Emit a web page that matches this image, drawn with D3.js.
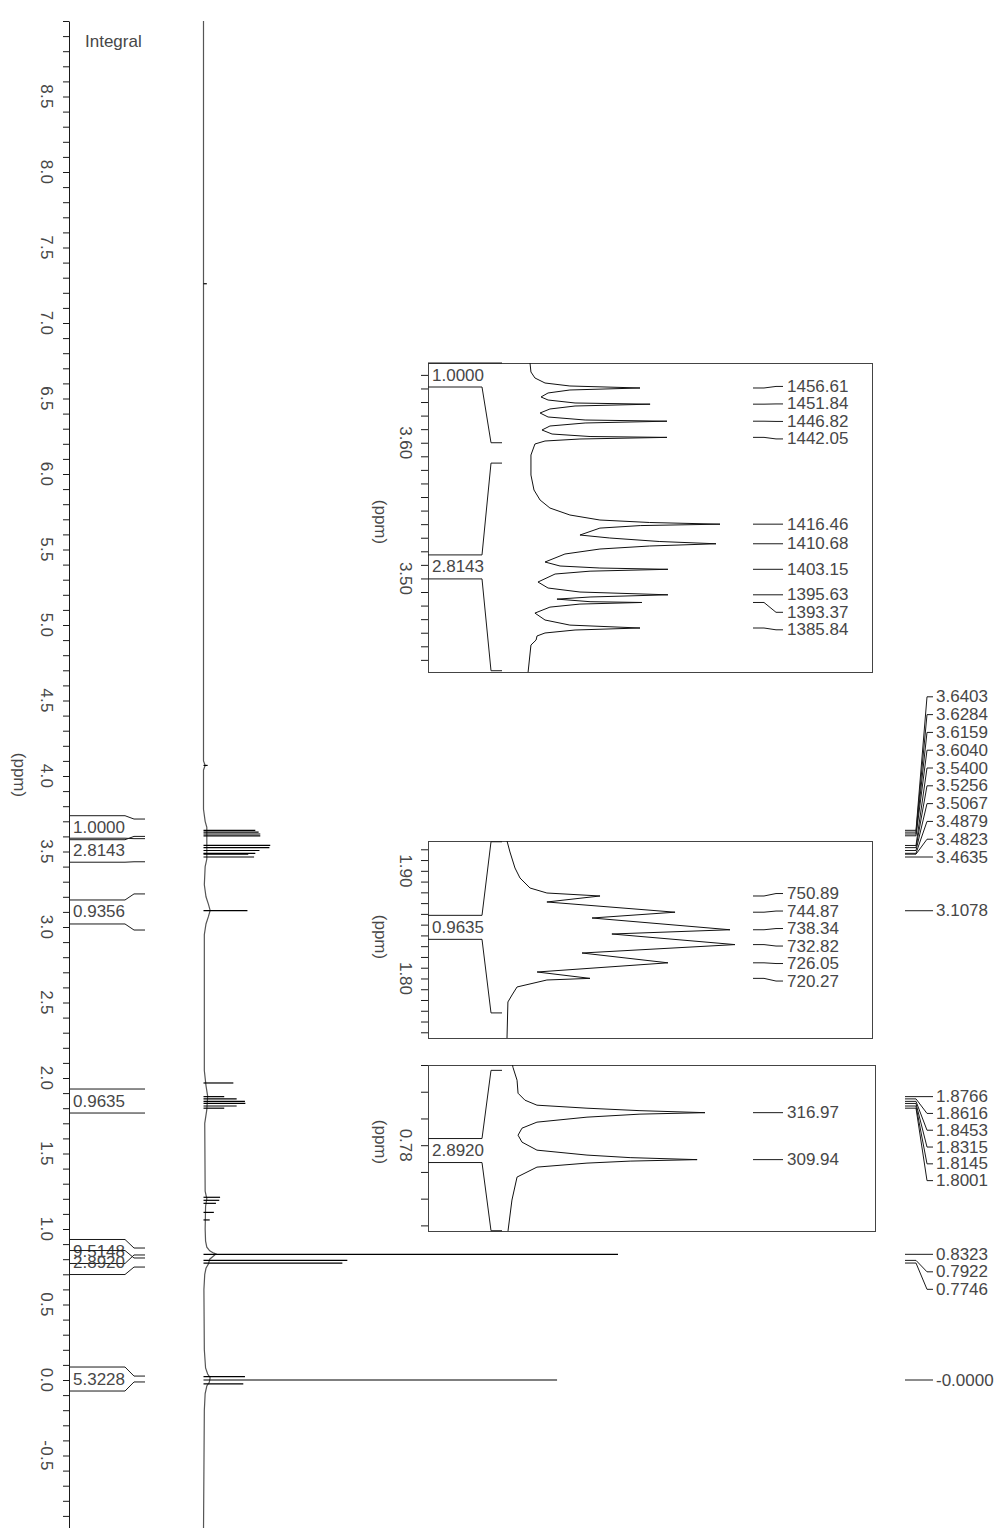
<!DOCTYPE html>
<html><head><meta charset="utf-8">
<script src="https://cdn.jsdelivr.net/npm/d3@7"></script>
<style>
body{margin:0;background:#fff;}
svg text{font-family:"Liberation Sans",Arial,sans-serif;font-size:17px;fill:#474747;}
</style></head><body>
<svg id="c" width="1000" height="1528"></svg>
<script>
// ---------------- DATA ----------------
const SF = 400.13; // MHz, converts Hz labels to ppm
const axisTickLabels = ["8.5","8.0","7.5","7.0","6.5","6.0","5.5","5.0","4.5","4.0","3.5","3.0","2.5","2.0","1.5","1.0","0.5","0.0","-0.5"];

// main spectrum peaks (ppm, intensity % of tallest)
const mainPeakPpm = [7.26, 4.07, 3.6403, 3.6284, 3.6159, 3.6040, 3.5400, 3.5256, 3.5067, 3.4879, 3.4823, 3.4635, 3.1078, 1.967, 1.8766, 1.8616, 1.8453, 1.8315, 1.8145, 1.8001, 1.21, 1.19, 1.17, 1.11, 1.06, 0.8323, 0.7922, 0.7746, 0.022, 0.0000, -0.025];
const mainPeakInt = [0.8, 1.0, 12.5, 13.3, 13.7, 13.7, 16.1, 15.9, 13.5, 12.5, 10.8, 12.2, 10.6, 7.2, 5.0, 8.0, 10.0, 10.1, 8.0, 5.0, 4.0, 3.8, 3.0, 2.5, 1.5, 100, 34.7, 33.5, 10.0, 85.3, 9.6];

// main baseline (ppm, intensity %)
const baselinePpm = [9.0, 4.10, 4.07, 4.04, 3.78, 3.70, 3.66, 3.45, 3.40, 3.28, 3.20, 3.15, 3.11, 3.07, 3.02, 2.95, 2.05, 1.95, 1.88, 1.79, 1.70, 1.25, 1.20, 1.15, 1.0, 0.92, 0.88, 0.855, 0.84, 0.835, 0.80, 0.77, 0.74, 0.70, 0.60, 0.20, 0.08, 0.04, 0.015, -0.015, -0.04, -0.09, -0.2, -1.0];
const baselineInt = [0, 0, 0.4, 0, 0, 0.4, 0.8, 0.8, 0.4, 0.2, 0.6, 1.2, 1.6, 1.2, 0.6, 0.2, 0.2, 0.6, 1.0, 0.8, 0.3, 0.4, 0.8, 0.5, 0.4, 0.5, 0.8, 1.5, 2.5, 3.0, 1.5, 1.2, 0.6, 0.3, 0.1, 0.2, 0.5, 1.0, 1.6, 1.4, 0.8, 0.4, 0.2, 0];

// integrals
const integralLabels = ["1.0000", "2.8143", "0.9356", "0.9635", "9.5148", "2.8920", "5.3228"];
const integralFrom   = [3.715, 3.585, 3.219, 1.927, 0.874, 0.808, 0.026];
const integralTo     = [3.600, 3.432, 2.980, 1.768, 0.828, 0.748, -0.013];

// right-hand chemical shift labels (ppm)
const rightShiftLabels = ["3.6403","3.6284","3.6159","3.6040","3.5400","3.5256","3.5067","3.4879","3.4823","3.4635","3.1078","1.8766","1.8616","1.8453","1.8315","1.8145","1.8001","0.8323","0.7922","0.7746","-0.0000"];

// insets: peak labels (Hz), tick labels, traces [Hz, intensity %]
const inset1PeakHz = ["1456.61","1451.84","1446.82","1442.05","1416.46","1410.68","1403.15","1395.63","1393.37","1385.84"];
const inset2PeakHz = ["750.89","744.87","738.34","732.82","726.05","720.27"];
const inset3PeakHz = ["316.97","309.94"];
const inset1TickLabels = ["3.60","3.50"];
const inset2TickLabels = ["1.90","1.80"];
const inset3TickLabels = ["0.78"];

const inset1Trace = [[1463.98,0],[1461.33,0.5],[1459.56,2.6],[1458.08,7.9],[1457.2,21],[1456.61,57.9],[1456.02,21],[1455.14,9.5],[1453.96,5.8],[1453.07,9.5],[1452.19,23.7],[1451.84,63.2],[1451.3,23.7],[1450.42,10.5],[1449.24,5.3],[1448.06,9.5],[1447.17,29],[1446.82,72.1],[1446.29,29],[1445.4,10.5],[1444.22,6.3],[1443.04,11.6],[1442.3,31.6],[1442.05,72.1],[1441.57,26.3],[1440.98,7.9],[1440.1,2.6],[1436.85,0.5],[1430.95,0.5],[1426.53,2.1],[1423.58,5.3],[1421.22,10.5],[1419.16,21],[1417.68,36.8],[1416.95,63],[1416.46,100],[1416.04,58],[1415.3,36.8],[1413.26,26.3],[1412.38,42],[1411.35,68],[1410.68,97.9],[1410.02,63],[1409.13,36.8],[1407.66,18.4],[1405.3,7.9],[1404.12,15.8],[1403.53,36.8],[1403.15,72.6],[1402.6,31.6],[1401.76,13.2],[1399.4,4.2],[1397.63,9.5],[1396.45,26.3],[1395.63,72.6],[1394.98,31.6],[1394.36,14.2],[1393.6,31.6],[1393.37,58.9],[1392.9,26.3],[1392.0,10.5],[1390.24,2.6],[1388.2,7.9],[1386.7,21],[1385.84,57.9],[1385.25,23.7],[1384.37,7.9],[1383.49,3.7],[1382.3,3.2],[1380.82,0.5],[1372.86,-1]];
const inset2Trace = [[771.34,0],[767.25,1.3],[761.3,3.5],[757.58,5.7],[753.86,10.1],[752.0,17.5],[750.89,40.8],[748.66,17.5],[744.87,73.7],[742.71,37.3],[738.34,97.8],[736.76,46],[732.82,100],[729.7,32.9],[726.05,70.6],[722.64,13.2],[720.27,36.4],[719.67,17.5],[717.07,4.4],[714.1,2.2],[711.5,0.4],[698.1,0]];
const inset3Trace = [[324.1,2.3],[323.77,2.5],[321.83,4.6],[319.88,5.1],[318.84,8.6],[318.09,14.7],[317.64,40.1],[317.27,67],[316.97,100],[316.75,67],[316.3,40.1],[315.55,14.7],[314.65,7.1],[313.6,5.1],[312.56,7.1],[311.36,14.7],[310.62,40.1],[310.24,62],[309.94,96],[309.72,62],[309.42,40.1],[308.82,14.7],[307.33,4.6],[303.89,2],[299.26,0]];

// ---------------- DRAWING ----------------
const svg = d3.select("#c");
const INK = "#1a1a1a";

const yMain = d3.scaleLinear().domain([9.0, -1.0]).range([21, 1531]);
const xMain = d3.scaleLinear().domain([0, 100]).range([203.5, 618]);
const AXIS_X = 69;

// main axis
const axisG = svg.append("g").attr("transform", `translate(${AXIS_X},0)`)
  .call(d3.axisLeft(yMain).tickValues(d3.range(-10, 91).map(i => i / 10))
    .tickSize(6).tickSizeOuter(0).tickFormat(""));
axisG.select(".domain").attr("stroke", INK);
axisG.selectAll(".tick line").attr("stroke", INK);

svg.append("g").selectAll("text").data(axisTickLabels).join("text")
  .attr("transform", d => `translate(46,${yMain(+d)}) rotate(90)`)
  .attr("text-anchor", "middle").attr("dominant-baseline", "central")
  .attr("letter-spacing", "0.3").text(d => d);

svg.append("text").attr("transform", "translate(19,775) rotate(90)")
  .attr("text-anchor", "middle").attr("dominant-baseline", "central").text("(ppm)");
svg.append("text").attr("x", 85).attr("y", 41).attr("dominant-baseline", "central").text("Integral");

// main baseline
const baseline = baselinePpm.map((p, i) => [p, baselineInt[i]]);
svg.append("path").datum(baseline)
  .attr("d", d3.line().x(d => xMain(d[1])).y(d => yMain(d[0])))
  .attr("fill", "none").attr("stroke", "#555").attr("stroke-width", 1.2);

// main peaks
const mainPeaks = mainPeakPpm.map((p, i) => [p, mainPeakInt[i]]);
const stick = d3.line().x(d => xMain(d[1])).y(d => yMain(d[0]));
svg.append("g").selectAll("path").data(mainPeaks).join("path")
  .attr("d", d => stick([[d[0], 0], [d[0], d[1]]]))
  .attr("stroke", "#000").attr("stroke-width", 1.2).attr("fill", "none");

// integrals
function drawIntegrals(g, y, x0, boxRight, top, bottom) {
  const dom = y.domain();
  const hi = Math.max(dom[0], dom[1]), lo = Math.min(dom[0], dom[1]);
  const cl = v => Math.max(top, Math.min(bottom, v));
  integralLabels.forEach((lab, i) => {
    const a = integralFrom[i], b = integralTo[i];
    if (b > hi || a < lo) return;
    let c = y((a + b) / 2);
    c = Math.max(top + 12, Math.min(bottom - 12, c));
    const yt = c - 12, yb = c + 12;
    const ya = cl(y(a)), ybb = cl(y(b));
    g.append("path").attr("d", `M${x0},${yt}H${boxRight}L${boxRight + 9},${ya}H${boxRight + 20}`)
      .attr("fill", "none").attr("stroke", INK).attr("stroke-width", 1);
    g.append("path").attr("d", `M${x0},${yb}H${boxRight}L${boxRight + 9},${ybb}H${boxRight + 20}`)
      .attr("fill", "none").attr("stroke", INK).attr("stroke-width", 1);
    g.append("text").attr("x", x0 + 4).attr("y", c).attr("dominant-baseline", "central").text(lab);
  });
}
drawIntegrals(svg.append("g"), yMain, AXIS_X, 125, 21, 1531);

// label layout helper
function layout(ys, gap, mode) {
  const n = ys.length, out = ys.slice();
  if (mode === "up") {
    for (let i = n - 2; i >= 0; i--) out[i] = Math.min(ys[i], out[i + 1] - gap);
  } else {
    for (let i = 1; i < n; i++) out[i] = Math.max(ys[i], out[i - 1] + gap);
    if (mode === "center") { const s = d3.mean(ys) - d3.mean(out); for (let i = 0; i < n; i++) out[i] += s; }
  }
  return out;
}
function drawPeakLabels(g, labels, posFn, groups, xa, xb, xc, xd, xt) {
  groups.forEach(([f, t, mode, gap]) => {
    const labs = labels.slice(f, t + 1);
    const py = labs.map(posFn);
    const ly = layout(py, gap, mode);
    labs.forEach((lab, i) => {
      g.append("path").attr("d", `M${xa},${py[i]}H${xb}L${xc},${ly[i]}H${xd}`)
        .attr("fill", "none").attr("stroke", INK).attr("stroke-width", 1);
      g.append("text").attr("x", xt).attr("y", ly[i]).attr("dominant-baseline", "central").text(lab);
    });
  });
}
drawPeakLabels(svg.append("g"), rightShiftLabels, d => yMain(+d),
  [[0, 9, "up", 17.8], [10, 10, "down", 17.5], [11, 16, "down", 16.8], [17, 19, "down", 17.5], [20, 20, "down", 17.5]],
  905, 916, 927, 933, 936);

// insets
const insets = [
  { x0: 428, x1: 872, y0: 363, y1: 672, dom: [3.65876, 3.43106], base: 530, full: 720,
    ticks: inset1TickLabels, peaks: inset1PeakHz, trace: inset1Trace, ppmY: 522,
    groups: [[0, 3, "center", 17.5], [4, 9, "down", 17.5]] },
  { x0: 428, x1: 872, y0: 841, y1: 1038, dom: [1.9277, 1.7447], base: 507, full: 735,
    ticks: inset2TickLabels, peaks: inset2PeakHz, trace: inset2Trace, ppmY: 937,
    groups: [[0, 5, "center", 17.5]] },
  { x0: 428, x1: 875, y0: 1065, y1: 1231, dom: [0.8100, 0.7479], base: 508, full: 705,
    ticks: inset3TickLabels, peaks: inset3PeakHz, trace: inset3Trace, ppmY: 1142,
    groups: [[0, 1, "down", 17.5]] }
];
insets.forEach((ins, k) => {
  const g = svg.append("g");
  const y = d3.scaleLinear().domain(ins.dom).range([ins.y0, ins.y1]);
  const x = d3.scaleLinear().domain([0, 100]).range([ins.base, ins.full]);
  const cid = "clip" + k;
  svg.append("clipPath").attr("id", cid).append("rect")
    .attr("x", ins.x0).attr("y", ins.y0).attr("width", ins.x1 - ins.x0).attr("height", ins.y1 - ins.y0);
  g.append("rect").attr("x", ins.x0 + 0.5).attr("y", ins.y0 + 0.5)
    .attr("width", ins.x1 - ins.x0).attr("height", ins.y1 - ins.y0)
    .attr("fill", "#fff").attr("stroke", "#444").attr("stroke-width", 1);
  const lo = Math.min(...ins.dom), hi = Math.max(...ins.dom);
  const tv = d3.range(Math.ceil(lo * 100 - 1e-9), Math.floor(hi * 100 + 1e-9) + 1).map(i => i / 100);
  const ax = g.append("g").attr("transform", `translate(${ins.x0},0)`)
    .call(d3.axisLeft(y).tickValues(tv).tickSize(7).tickSizeOuter(0).tickFormat(""));
  ax.select(".domain").remove();
  ax.selectAll(".tick line").attr("stroke", INK);
  g.selectAll("text.tl").data(ins.ticks).join("text").attr("class", "tl")
    .attr("transform", d => `translate(405,${y(+d)}) rotate(90)`)
    .attr("text-anchor", "middle").attr("dominant-baseline", "central").text(d => d);
  g.append("text").attr("transform", `translate(380,${ins.ppmY}) rotate(90)`)
    .attr("text-anchor", "middle").attr("dominant-baseline", "central").text("(ppm)");
  // trace
  g.append("path").datum(ins.trace).attr("clip-path", `url(#${cid})`)
    .attr("d", d3.line().x(d => x(d[1])).y(d => y(d[0] / SF)))
    .attr("fill", "none").attr("stroke", "#111").attr("stroke-width", 1);
  // integrals
  drawIntegrals(g.append("g"), y, ins.x0, 482, ins.y0, ins.y1);
  // peak labels
  drawPeakLabels(g.append("g"), ins.peaks, d => y(+d / SF), ins.groups, 753, 764, 776, 783, 787);
});
</script>
</body></html>
